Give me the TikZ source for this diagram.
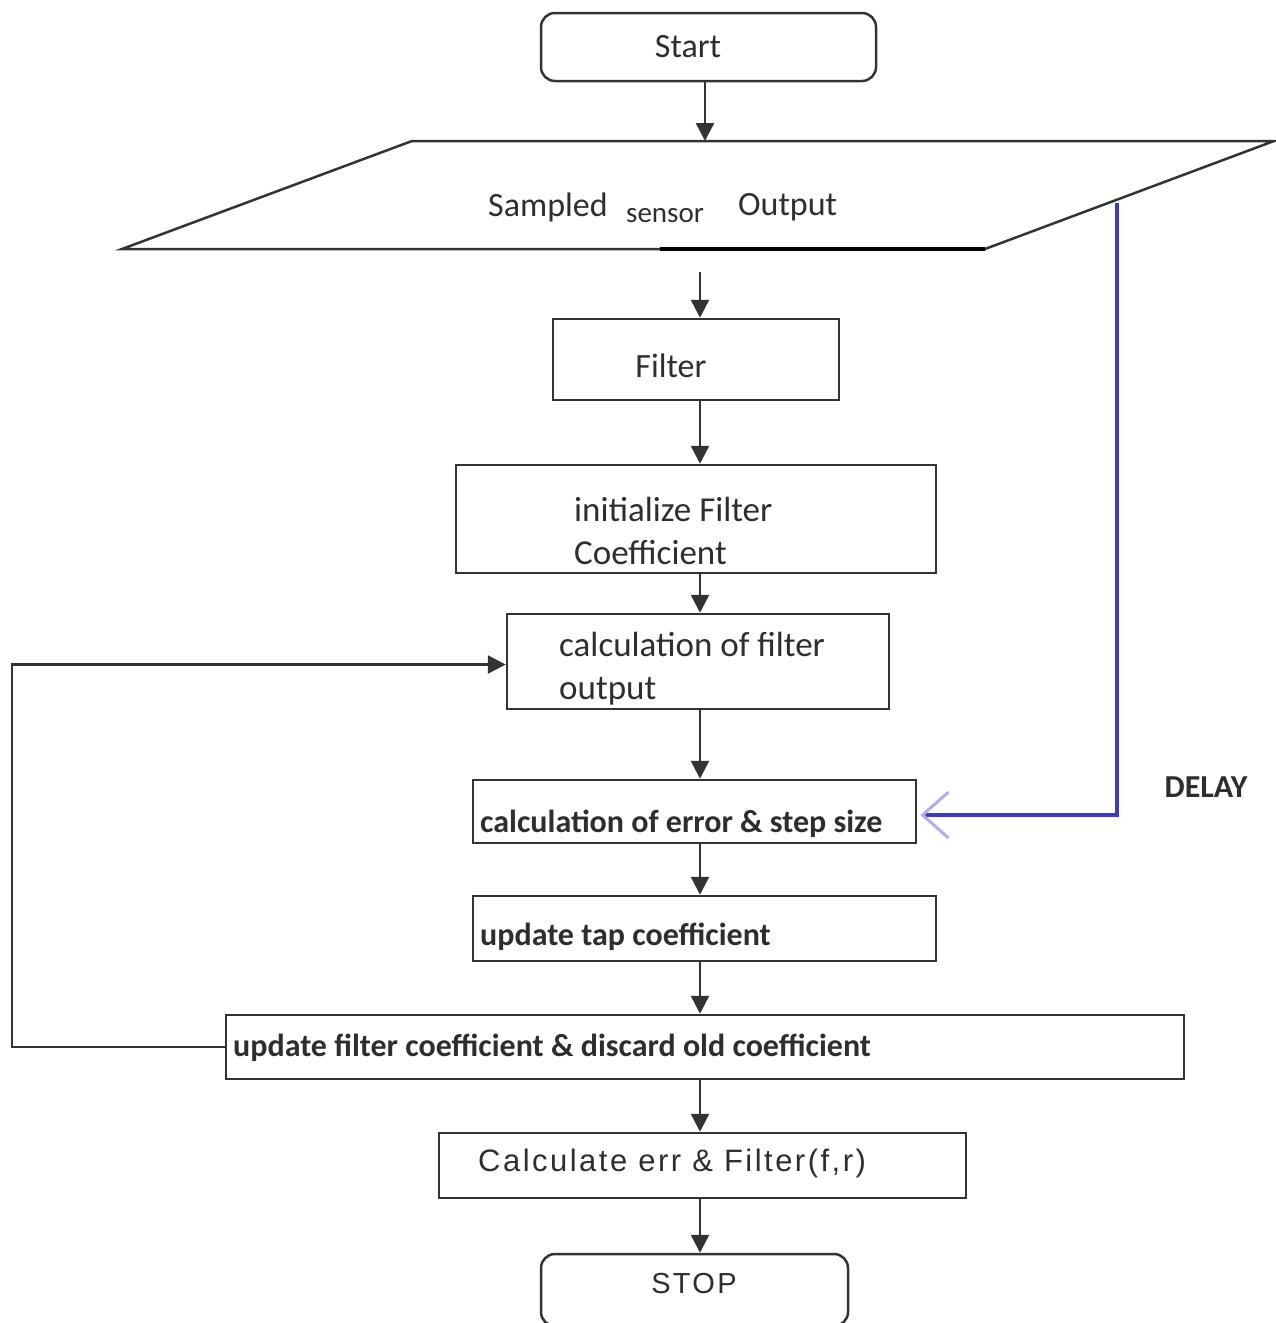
\documentclass[tikz,border=0pt]{standalone}
\usepackage{fontspec}
\setmainfont{Carlito}
\newfontfamily\arialf[LetterSpace=8]{Liberation Sans}
\usetikzlibrary{arrows.meta}
\definecolor{linec}{HTML}{333333}
\definecolor{txtc}{HTML}{2E2E2E}
\definecolor{delayblue}{HTML}{3B3BC8}
\definecolor{lavender}{HTML}{B4ACE6}
\begin{document}
\begin{tikzpicture}[x=1pt,y=-1pt,
  box/.style={draw=linec, line width=2.5pt, rectangle, inner sep=0pt, fill=white},
  term/.style={box, rounded corners=14pt},
  arr/.style={draw=linec, line width=2.5pt, -{Triangle[length=18pt,width=18pt]}},
  txt/.style={text=txtc, inner sep=0pt, font=\fontsize{35}{43}\selectfont},
  btxt/.style={text=txtc, inner sep=0pt, font=\fontsize{32}{38}\selectfont\bfseries},
  atxt/.style={text=txtc, inner sep=0pt, font=\fontsize{31}{36}\selectfont\arialf}]
\useasboundingbox (0,0) rectangle (1276,1323);

% boxes
\node[term, minimum width=335pt, minimum height=68pt] (start) at (708.5,47) {};
\node[box, minimum width=286pt, minimum height=81pt] (filter) at (696,359.5) {};
\node[box, minimum width=480pt, minimum height=108pt] (init) at (696,519) {};
\node[box, minimum width=382pt, minimum height=95pt] (calcout) at (698,661.5) {};
\node[box, minimum width=443pt, minimum height=63pt] (calcerr) at (694.5,811.5) {};
\node[box, minimum width=463pt, minimum height=65pt] (tap) at (704.5,928.5) {};
\node[box, minimum width=958pt, minimum height=64pt] (updf) at (705,1047) {};
\node[box, minimum width=527pt, minimum height=65pt] (calcf) at (702.5,1165.5) {};
\node[term, minimum width=307pt, minimum height=72pt] (stop) at (694.5,1290) {};

% input/output parallelogram
\coordinate (p1) at (412,141);
\coordinate (p2) at (1274,141);
\coordinate (p3) at (985,249);
\coordinate (p4) at (122,249);
\draw[linec, line width=2.5pt, line join=miter] (p1) -- (p2) -- (p3) -- (p4) -- cycle;
\draw[black, line width=3.2pt] (660,249) -- (p3);
\coordinate (pin) at (705,141);
\coordinate (pout) at (700,272);
\coordinate (dtap) at (1117,203);

% texts
\node[txt, font=\fontsize{34}{40}\selectfont] (tstart) at (688,47) {Start};
\node[txt, anchor=west, font=\fontsize{34}{40}\selectfont] (tsamp) at (488,207) {Sampled};
\node[txt, anchor=west, font=\fontsize{29}{34}\selectfont] (tsens) at (626,216) {sensor};
\node[txt, anchor=west, font=\fontsize{34}{40}\selectfont] (tout) at (738,207) {Output};
\node[txt, font=\fontsize{34}{40}\selectfont] (tfilter) at (671,366) {Filter};
\node[txt, anchor=west, align=left] (tinit) at (574,530.5) {initialize Filter\\Coefficient};
\node[txt, anchor=west, align=left] (tcalcout) at (559,669) {calculation of filter\\output};
\node[btxt, anchor=west] (tcalcerr) at (480,824) {calculation of error \& step size};
\node[btxt, anchor=west] (ttap) at (480,937) {update tap coefficient};
\node[btxt, anchor=west] (tupdf) at (233,1048) {update filter coefficient \& discard old coefficient};
\node[atxt, anchor=west] (tcalcf) at (478,1163) {Calculate err \& Filter(f,r)};
\node[atxt, font=\fontsize{29}{34}\selectfont\arialf] (tstop) at (694,1284) {STOP};
\node[btxt] (tdelay) at (1206,787) {DELAY};

% main flow
\coordinate (ax) at (700,0);
\draw[arr] (start.south -| pin) -- (pin);
\draw[arr] (pout) -- (filter.north -| ax);
\draw[arr] (filter.south -| ax) -- (init.north -| ax);
\draw[arr] (init.south -| ax) -- (calcout.north -| ax);
\draw[arr] (calcout.south -| ax) -- (calcerr.north -| ax);
\draw[arr] (calcerr.south -| ax) -- (tap.north -| ax);
\draw[arr] (tap.south -| ax) -- (updf.north -| ax);
\draw[arr] (updf.south -| ax) -- (calcf.north -| ax);
\draw[arr] (calcf.south -| ax) -- (stop.north -| ax);

% feedback loop
\coordinate (lp) at (12,0);
\coordinate (fb) at ([yshift=-3pt]calcout.west);
\draw[arr] (updf.west) -- (updf.west -| lp) -- (fb -| lp) -- (fb);

% delayed sensor path
\draw[delayblue, line width=4pt, shorten >=3pt,
  -{Straight Barb[color=lavender, length=26pt, width=46pt, line width=3pt]}]
  (dtap) |- ([yshift=-3.5pt]calcerr.east);
\end{tikzpicture}
\end{document}
